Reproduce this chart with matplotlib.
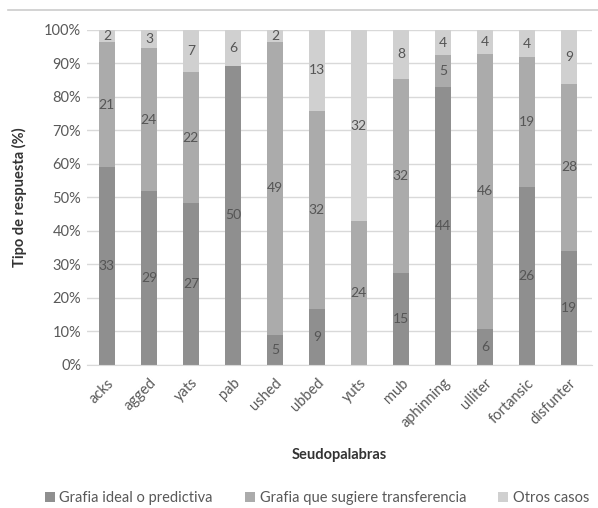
import numpy as np
import matplotlib.pyplot as plt
from matplotlib.lines import Line2D

plt.rcParams['font.family'] = ['Lato', 'DejaVu Sans']

palabras = ['acks', 'agged', 'yats', 'pab', 'ushed', 'ubbed', 'yuts', 'mub',
            'aphinning', 'ulliter', 'fortansic', 'disfunter']
ideal = [33, 29, 27, 50, 5, 9, 0, 15, 44, 6, 26, 19]
transferencia = [21, 24, 22, 0, 49, 32, 24, 32, 5, 46, 19, 28]
otros = [2, 3, 7, 6, 2, 13, 32, 8, 4, 4, 4, 9]

series_names = ['Grafia ideal o predictiva', 'Grafia que sugiere transferencia', 'Otros casos']
colors = ['#8f8f8f', '#ababab', '#d0d0d0']
txt = '#595959'

counts = np.array([ideal, transferencia, otros], dtype=float)
pct = counts / counts.sum(axis=0) * 100

fig = plt.figure(figsize=(5.98, 5.08), dpi=100)
ax = fig.add_axes([0.145, 0.282, 0.845, 0.659])

x = np.arange(len(palabras))
bottom = np.zeros(len(palabras))
for i in range(3):
    ax.bar(x, pct[i], 0.38, bottom=bottom, color=colors[i], label=series_names[i], zorder=2)
    for j in range(len(palabras)):
        if counts[i, j] > 0:
            ax.text(x[j], bottom[j] + pct[i, j] / 2, str(int(counts[i, j])),
                    ha='center', va='center', fontsize=10, color='#555555', zorder=3)
    bottom += pct[i]

ax.set_ylim(0, 100)
ax.set_xlim(-0.48, 11.55)
ax.set_yticks(np.arange(0, 101, 10))
ax.set_yticklabels([f'{v}%' for v in range(0, 101, 10)], fontsize=10.5, color=txt)
ax.set_xticks(x)
ax.set_xticklabels(palabras, rotation=45, ha='right', rotation_mode='anchor',
                   fontsize=10.5, color=txt)
ax.yaxis.grid(True, color='#d9d9d9', linewidth=1, zorder=0)
ax.tick_params(axis='y', length=0, pad=4)
ax.tick_params(axis='x', length=0, pad=8)
for s in ['top', 'right', 'left']:
    ax.spines[s].set_visible(False)
ax.spines['bottom'].set_color('#d9d9d9')

ax.set_ylabel('Tipo de respuesta (%)', fontsize=10.5, fontweight='bold', color='#333333', labelpad=12)
ax.set_xlabel('Seudopalabras', fontsize=10.5, fontweight='bold', color='#333333', labelpad=13)

fig.legend(loc='lower center', bbox_to_anchor=(0.53, -0.02), ncol=3, frameon=False,
           fontsize=10.5, handlelength=0.7, handleheight=0.7, handletextpad=0.3,
           columnspacing=2.2, labelcolor=txt)

fig.add_artist(Line2D([0.013, 1.0], [0.98, 0.98], color='#cccccc', linewidth=1.2))

fig.savefig('out.png', dpi=100)
